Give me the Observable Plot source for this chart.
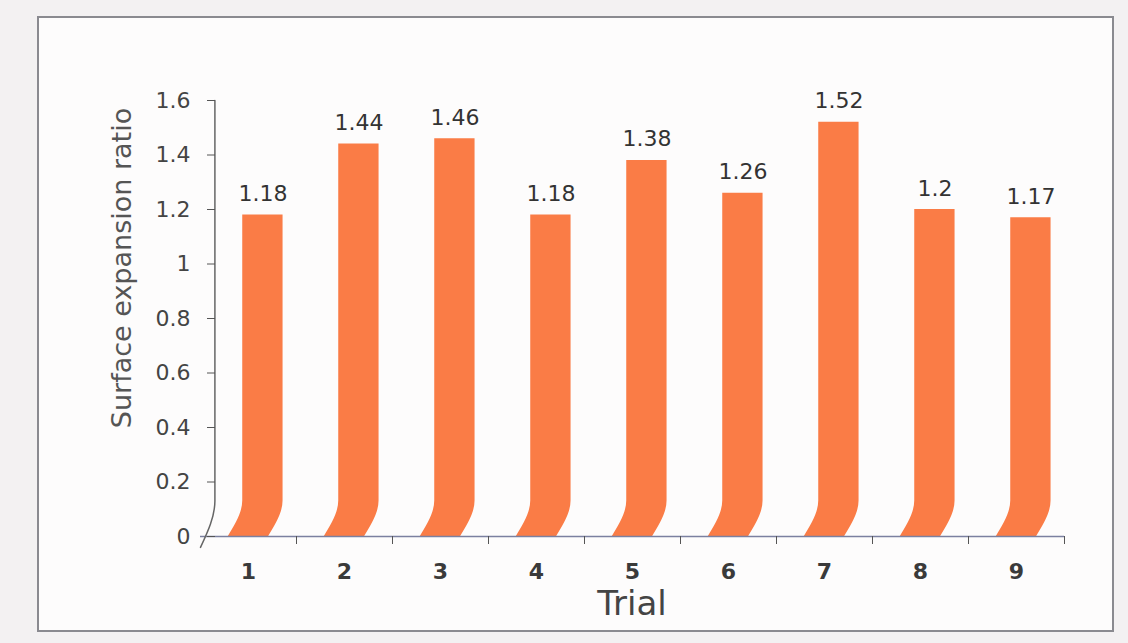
<!DOCTYPE html>
<html><head><meta charset="utf-8">
<script src="https://cdn.jsdelivr.net/npm/d3@7"></script>
<script src="https://cdn.jsdelivr.net/npm/@observablehq/plot@0.6"></script>
<style>
body{margin:0;background:#f3f1f2;width:1128px;height:643px;overflow:hidden;position:relative;font-family:"DejaVu Sans",sans-serif}
#frame{position:absolute;left:37px;top:16px;width:1073px;height:612px;border:2px solid #8a8a90;background:#fdfcfc}
#chart{position:absolute;left:0;top:0}
#ylab{position:absolute;left:121px;top:268px;transform:translate(-50%,-50%) rotate(-90deg);font-size:27px;color:#555;white-space:nowrap}
#xlab{position:absolute;left:632px;top:603px;transform:translate(-50%,-50%);font-size:34px;color:#444}
</style></head><body>
<div id="frame"></div><div id="chart"></div>
<div id="ylab">Surface expansion ratio</div><div id="xlab">Trial</div>
<script>
const trials = [1, 2, 3, 4, 5, 6, 7, 8, 9];
const ratios = [1.18, 1.44, 1.46, 1.18, 1.38, 1.26, 1.52, 1.2, 1.17];
const yTicks = [0, 0.2, 0.4, 0.6, 0.8, 1, 1.2, 1.4, 1.6];
const yTickLabels = ["0", "0.2", "0.4", "0.6", "0.8", "1", "1.2", "1.4", "1.6"];
const xTickLabels = ["1", "2", "3", "4", "5", "6", "7", "8", "9"];

// styling constants for the broken-axis "squiggle"
const shift = 0.15;      // horizontal offset of bar tops (trial units)
const breakAt = 0.13;    // where the squiggle begins (y units)
const halfWidth = 0.21;  // half bar width (trial units)
const xDomain = [trials[0] - 0.5, trials[trials.length - 1] + 0.5];
const yDomain = [yTicks[0], yTicks[yTicks.length - 1]];

const barPts = trials.flatMap((t, i) => [
  {trial: t, c: t + shift, y: ratios[i]},
  {trial: t, c: t + shift, y: breakAt},
  {trial: t, c: t, y: 0}
]);
const axisPts = [
  {x: xDomain[0] + shift, y: yDomain[1]},
  {x: xDomain[0] + shift, y: breakAt},
  {x: xDomain[0], y: -0.04}
];
const labels = trials.map((t, i) => ({x: t + shift, y: ratios[i], text: String(ratios[i])}));
const boundaries = trials.map(t => t + 0.5);

const chart = Plot.plot({
  width: 1128, height: 643,
  marginLeft: 200, marginRight: 64, marginTop: 100, marginBottom: 107,
  style: {background: "transparent", fontSize: "20px", fontFamily: "DejaVu Sans, sans-serif", color: "#3a3a3a"},
  x: {domain: xDomain},
  y: {domain: yDomain},
  marks: [
    Plot.areaX(barPts, {y: "y", x1: d => d.c - halfWidth, x2: d => d.c + halfWidth, z: "trial", fill: "#fa7c46", curve: "monotone-y"}),
    Plot.ruleY([0], {stroke: "#7b80a0", strokeWidth: 1.5}),
    Plot.line(axisPts, {x: "x", y: "y", curve: "monotone-y", stroke: "#666", strokeWidth: 1.5}),
    Plot.axisX(boundaries, {tickSize: 8, tickFormat: () => "", stroke: "#555", label: null}),
    Plot.axisX(trials, {tickSize: 0, tickPadding: 27, tickFormat: (d, i) => xTickLabels[i], fontSize: 22, fontWeight: "bold", fill: "#3a3a3a", label: null}),
    Plot.axisY(yTicks, {dx: 15, tickSize: 8, tickPadding: 17, tickFormat: (d, i) => yTickLabels[i], fontSize: 22, fill: "#444", stroke: "#555", label: null}),
    Plot.text(labels, {x: "x", y: "y", text: "text", dy: -14, lineAnchor: "bottom", fontSize: 22, fill: "#333"})
  ]
});
document.getElementById("chart").append(chart);
</script>
</body></html>
